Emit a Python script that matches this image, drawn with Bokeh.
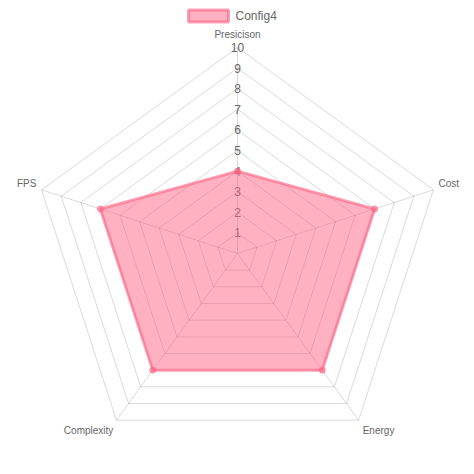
import math
from bokeh.plotting import figure
from bokeh.models import Range1d
from bokeh.core.properties import value
from bokeh.embed import file_html
from bokeh.resources import INLINE

categories = ["Presicison", "Cost", "Energy", "Complexity", "FPS"]
series_name = "Config4"
series_values = [4, 7, 7, 7, 7]
tick_labels = ["1", "2", "3", "4", "5", "6", "7", "8", "9", "10"]
max_value = 10

W = H = 470
scale = 20.6  # px per unit
cx_px, cy_px = 237, 253  # center in frame pixels

p = figure(width=W, height=H, output_backend="svg", toolbar_location=None,
           min_border=0, x_range=Range1d(-cx_px / scale, (W - cx_px) / scale),
           y_range=Range1d(-(H - cy_px) / scale, cy_px / scale))
p.axis.visible = False
p.grid.visible = False
p.outline_line_color = None

n = len(categories)
angles = [math.pi / 2 - 2 * math.pi * i / n for i in range(n)]

font = value("Liberation Sans")
grid_color = "#000000"

# rings
for k in range(1, max_value + 1):
    xs = [k * math.cos(a) for a in angles] + [k * math.cos(angles[0])]
    ys = [k * math.sin(a) for a in angles] + [k * math.sin(angles[0])]
    p.line(xs, ys, line_color=grid_color, line_alpha=0.15, line_width=1)

# angle lines
for a in angles:
    p.line([0, max_value * math.cos(a)], [0, max_value * math.sin(a)],
           line_color=grid_color, line_alpha=0.15, line_width=1)

# tick labels
p.text(x=[0] * len(tick_labels), y=[float(t) for t in tick_labels], text=tick_labels,
       text_font=font, text_font_size="12px", text_color="#666666",
       text_align="center", text_baseline="middle")

# data polygon
dx = [v * math.cos(a) for v, a in zip(series_values, angles)]
dy = [v * math.sin(a) for v, a in zip(series_values, angles)]
p.patch(dx, dy, fill_color="rgb(255,99,132)", fill_alpha=0.5,
        line_color="rgb(255,99,132)", line_alpha=0.6, line_width=3)
p.scatter(dx, dy, size=6, fill_color="rgb(255,99,132)", fill_alpha=0.6,
          line_color="rgb(255,99,132)", line_alpha=0.6)

# point labels
off = 0.45
lx, ly, aligns, bases = [], [], [], []
for i, a in enumerate(angles):
    r = max_value
    x = r * math.cos(a)
    y = r * math.sin(a)
    deg = (90 - math.degrees(a)) % 360
    if deg == 0:
        lx.append(x); ly.append(y + off * 0.8); aligns.append("center"); bases.append("bottom")
    elif deg < 180:
        if deg < 90:
            lx.append(x + 0.25); ly.append(y + 0.3); aligns.append("left"); bases.append("middle")
        else:
            lx.append(x + 0.2); ly.append(y - 0.5); aligns.append("left"); bases.append("middle")
    else:
        if deg > 270:
            lx.append(x - 0.25); ly.append(y + 0.3); aligns.append("right"); bases.append("middle")
        else:
            lx.append(x - 0.15); ly.append(y - 0.5); aligns.append("right"); bases.append("middle")
for i in range(n):
    p.text(x=[lx[i]], y=[ly[i]], text=[categories[i]], text_font=font,
           text_font_size="10px", text_color="#666666",
           text_align=aligns[i], text_baseline=bases[i])

# legend
def px2x(px):
    return (px - cx_px) / scale

def py2y(py):
    return (cy_px - py) / scale

p.rect(x=[px2x(208)], y=[py2y(15.5)], width=40, height=12, width_units="screen",
       height_units="screen", fill_color="rgb(255,99,132)", fill_alpha=0.5,
       line_color="rgb(255,99,132)", line_alpha=0.6, line_width=3)
p.text(x=[px2x(235)], y=[py2y(15.5)], text=[series_name], text_font=font,
       text_font_size="12px", text_color="#666666", text_align="left",
       text_baseline="middle")

open("out.html", "w").write(file_html(p, INLINE))
